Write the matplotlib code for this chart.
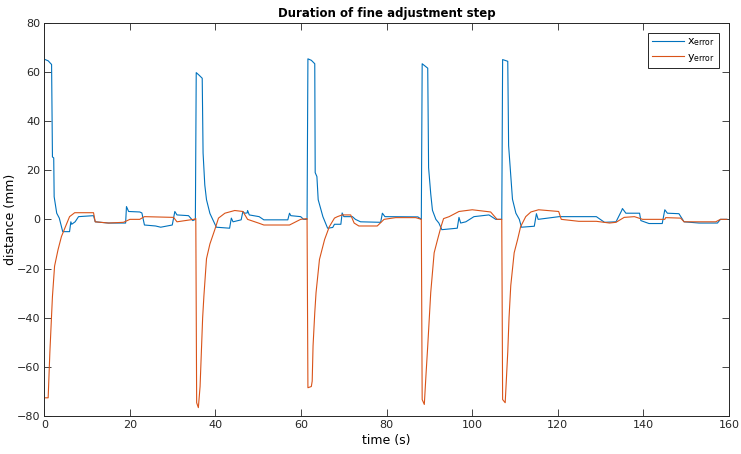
import matplotlib
matplotlib.use("Agg")
import matplotlib.pyplot as plt

# x_error trace (time in s, distance in mm)
t_x = [0.2, 0.9, 1.7, 1.9, 2.2, 2.3, 2.9, 3.5, 4.3, 5.9, 6.2, 6.4, 7.2, 8.0, 11.5, 11.9, 15.0, 19.0,
       19.2, 19.7, 22.3, 22.8, 23.4, 26.0, 27.2, 29.9, 30.5, 31.0, 33.7, 34.7, 35.3,
       35.5, 36.2, 36.9, 37.1, 37.5, 37.9, 38.7, 40.2, 43.3, 43.7, 44.1, 46.0, 46.4, 46.8, 47.4, 47.5,
       47.9, 50.2, 51.3, 56.9, 57.3, 57.6, 59.9, 60.6, 61.4,
       61.6, 62.4, 63.2, 63.3, 63.7, 64.0, 65.1, 66.2, 67.4, 67.8, 69.3, 69.6, 70.0, 72.0, 72.7, 73.9,
       78.6, 79.0, 79.6, 87.3, 88.1,
       88.3, 89.6, 89.8, 90.3, 90.7, 91.5, 92.2, 92.9, 96.5, 96.9, 97.3, 98.5, 100.4, 103.9, 105.5, 106.9,
       107.1, 108.3, 108.5, 109.4, 110.2, 111.0, 111.5, 114.5, 115.0, 115.4, 120.3, 129.0, 130.9,
       133.6, 134.9, 135.1, 135.9, 139.1, 139.4, 141.3, 144.4, 145.0, 145.6, 148.3, 149.5, 153.0,
       157.3, 158.0, 159.5]
x_error = [65, 64.5, 63, 25.4, 25, 9.2, 2.5, 0.5, -5, -5, -1, -2, -1, 1.1, 1.5, -1, -1.5, -1.5,
           5.2, 3.2, 3.0, 2.6, -2.3, -2.7, -3.2, -2.3, 3.2, 1.8, 1.5, -0.5, 0,
           59.7, 58.6, 57.4, 27, 14, 8, 2.4, -3.2, -3.6, 0.5, -1, -0.2, 3.2, 2.5, 2.6, 3.6,
           1.8, 1.1, -0.2, -0.2, 2.5, 1.5, 1.1, 0, 0,
           65.3, 64.7, 63.3, 19, 17.4, 8, 1.1, -3.6, -3.3, -2, -2, 2.6, 1.1, 1.1, 0, -1,
           -1.2, 2.5, 1.1, 1.0, 0,
           63.3, 61.5, 21, 10.4, 3.7, 0, -1.5, -4.2, -3.6, 0.8, -1.5, -1, 1.1, 1.8, 0, 0,
           65, 64.3, 30, 8.2, 2.5, 0, -3.2, -2.8, 2.3, 0, 1.1, 1.1, -1.2,
           -1, 3.5, 4.4, 2.5, 2.5, -0.5, -1.7, -1.7, 3.9, 2.5, 2.3, -1, -1.5,
           -1.5, 0, 0]

# y_error trace
t_y = [0.2, 0.9, 1.3, 1.9, 2.4, 3.2, 4.0, 4.7, 5.9, 7.1, 11.5, 11.9, 15.0, 18.5, 20.0, 22.3, 23.4,
       30.2, 31.0, 34.9, 35.4,
       35.6, 36.0, 36.4, 36.7, 37.0, 37.3, 37.9, 38.7, 39.8, 40.7, 42.2, 44.5, 46.4, 47.5, 50.2, 51.3,
       57.3, 59.9, 61.4,
       61.6, 62.4, 62.6, 62.8, 63.2, 63.5, 64.3, 65.5, 66.6, 67.8, 68.5, 69.6, 71.6, 72.4, 73.5, 77.8,
       79.4, 82.1, 86.8, 88.1,
       88.3, 88.8, 89.2, 89.6, 90.3, 91.1, 91.9, 92.7, 93.3, 94.6, 96.9, 100.0, 104.3, 105.8, 106.9,
       107.1, 107.7, 108.3, 108.6, 109.0, 109.8, 110.6, 111.3, 112.5, 113.7, 115.5, 120.2, 120.8,
       124.9, 129.0, 132.1, 133.6, 135.5, 137.9, 139.8, 145.0, 145.2, 148.7, 149.5, 156.9, 158.0,
       159.5]
y_error = [-72.6, -72.6, -54, -31.4, -19, -12.4, -7, -4, 1.1, 2.7, 2.7, -1, -1.5, -1.2, 0, 0, 1.1,
           0.8, -1, 0, 0.3,
           -74.6, -76.6, -68, -54, -40, -31, -16, -10, -4.4, 0.5, 2.5, 3.6, 3.2, 0, -1.6, -2.3,
           -2.3, 0, 0.3,
           -68.5, -68.0, -65.8, -51.5, -38, -29.8, -16.3, -8.2, -3, 0.5, 1.1, 1.8, 1.8, -1.5, -2.7, -2.7,
           0, 0.7, 0.7, 0,
           -73.3, -75.3, -63, -51.5, -29.8, -13.6, -8.2, -3, 0.3, 1.1, 3.2, 3.9, 3.0, 0, 0,
           -73.3, -74.6, -54, -40, -27, -13.6, -8.2, -3, 1.1, 3.0, 3.9, 3.2, 0,
           -0.8, -0.8, -1.5, -1.2, 0.8, 1.1, 0, 0, 0.7, 0.5, -1, -1, 0,
           0]

x_ticks = [0, 20, 40, 60, 80, 100, 120, 140, 160]
y_ticks = [-80, -60, -40, -20, 0, 20, 40, 60, 80]

fig = plt.figure(figsize=(7.41, 4.54), dpi=100)
ax = fig.add_axes([0.0598, 0.0837, 0.9240, 0.8663])

ax.plot(t_x, x_error, color="#0072BD", lw=0.8, label=r"x$_{\mathrm{error}}$")
ax.plot(t_y, y_error, color="#D95319", lw=0.8, label=r"y$_{\mathrm{error}}$")

ax.set_xlim(0, 160)
ax.set_ylim(-80, 80)
ax.set_xticks(x_ticks)
ax.set_yticks(y_ticks)
ax.tick_params(direction="in", length=5, width=0.6, top=True, right=True,
               labelsize=8, colors="#262626", pad=3)
for s in ax.spines.values():
    s.set_color("#262626")
    s.set_linewidth(0.7)

ax.set_title("Duration of fine adjustment step", fontsize=8.5, fontweight="bold", pad=4)
ax.set_xlabel("time (s)", fontsize=9, labelpad=3)
ax.set_ylabel("distance (mm)", fontsize=9, labelpad=0)

leg = ax.legend(loc="upper right", fontsize=8, fancybox=False, framealpha=1,
                edgecolor="#262626", handlelength=2.9, borderaxespad=0.9,
                labelspacing=0.3, borderpad=0.35, handletextpad=0.3)
leg.get_frame().set_linewidth(0.7)

fig.savefig("out.png", dpi=100)
